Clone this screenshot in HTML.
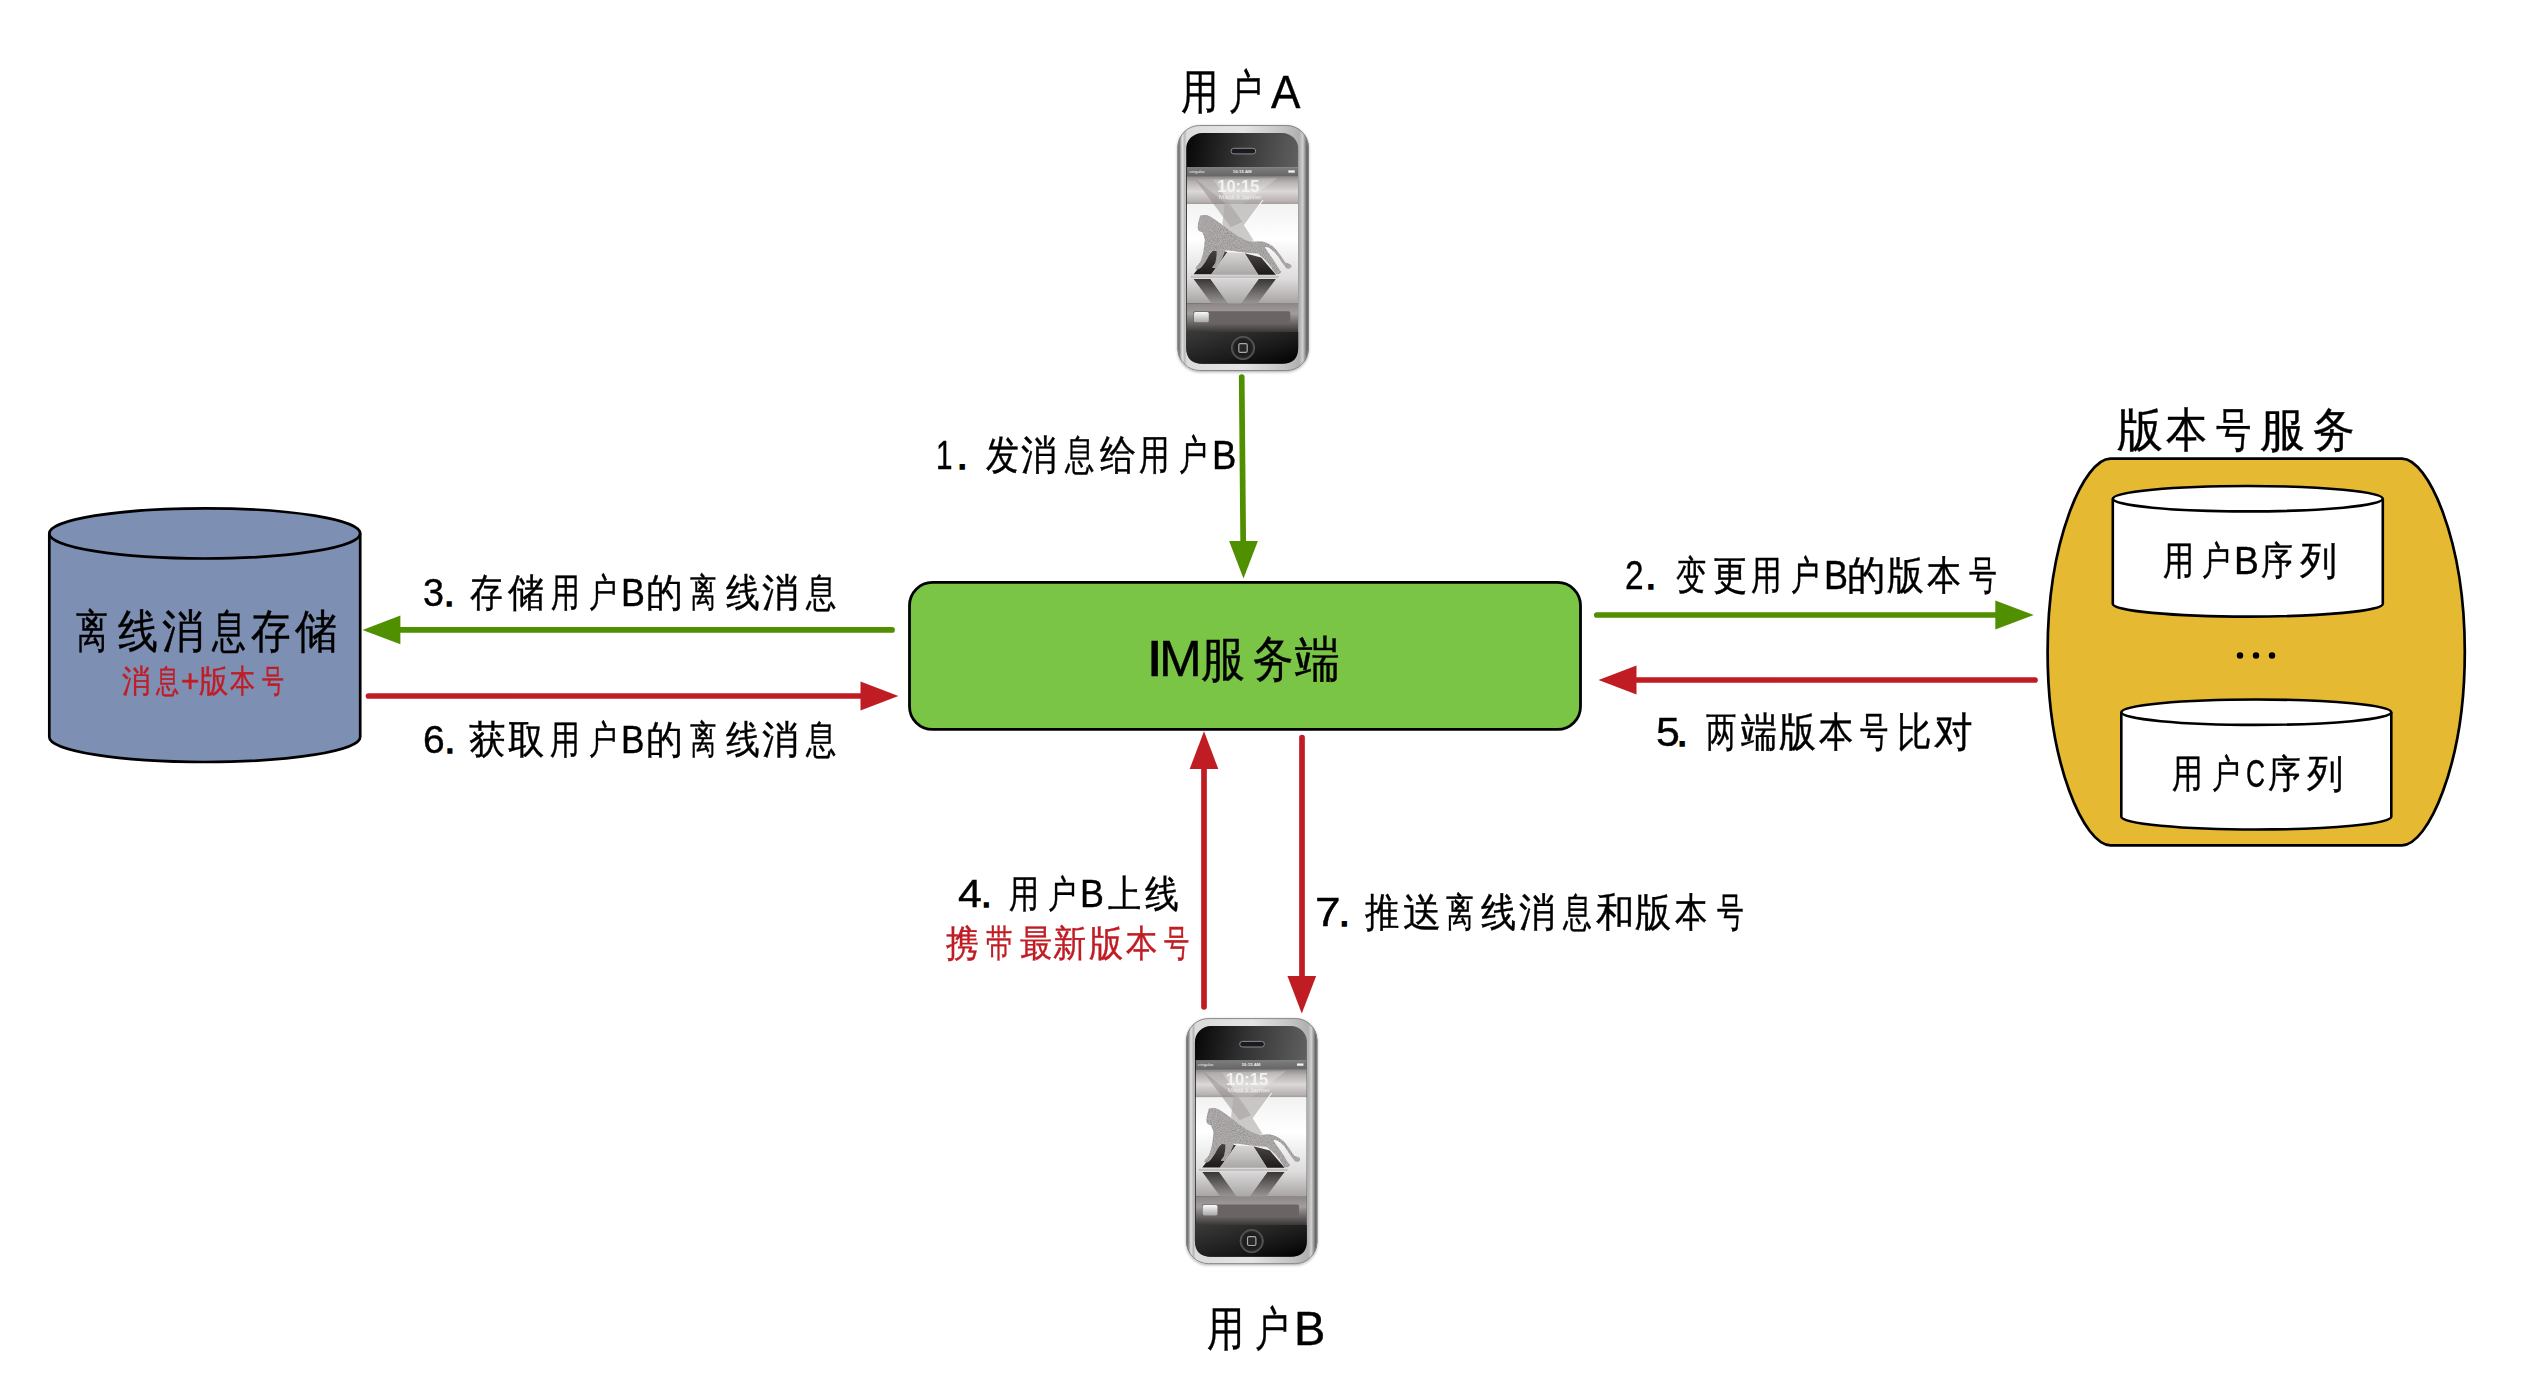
<!DOCTYPE html>
<html><head><meta charset="utf-8">
<style>
html,body{margin:0;padding:0;background:#fff;width:2538px;height:1392px;overflow:hidden;}
#c{position:absolute;left:0;top:0;width:2538px;height:1392px;}
.t{position:absolute;left:0;white-space:nowrap;font-family:"Liberation Sans",sans-serif;color:#000;line-height:1;}
.t span{position:absolute;top:0;transform-origin:0 0;-webkit-text-stroke:0.4px currentColor;}
.t span.d{-webkit-text-stroke:1.4px currentColor;stroke-linejoin:round;}
.r{color:#c01c24;}
</style></head><body>
<svg id="c" width="2538" height="1392" viewBox="0 0 2538 1392">
<defs>
  <linearGradient id="frame" x1="0" y1="0" x2="1" y2="0">
    <stop offset="0" stop-color="#444444"/>
    <stop offset="0.02" stop-color="#9a9a9a"/>
    <stop offset="0.035" stop-color="#e2e2e2"/>
    <stop offset="0.055" stop-color="#b8b8b8"/>
    <stop offset="0.07" stop-color="#dcdcdc"/>
    <stop offset="0.5" stop-color="#e4e4e4"/>
    <stop offset="0.8" stop-color="#c4c4c4"/>
    <stop offset="0.93" stop-color="#b0b0b0"/>
    <stop offset="0.955" stop-color="#d0d0d0"/>
    <stop offset="0.975" stop-color="#8e8e8e"/>
    <stop offset="1" stop-color="#333333"/>
  </linearGradient>
  <linearGradient id="bezel" x1="0" y1="0" x2="1" y2="0.35">
    <stop offset="0" stop-color="#050505"/>
    <stop offset="0.45" stop-color="#353535"/>
    <stop offset="1" stop-color="#666666"/>
  </linearGradient>
  <linearGradient id="bezelb" x1="0" y1="0" x2="1" y2="1">
    <stop offset="0" stop-color="#3a3a3a"/>
    <stop offset="0.6" stop-color="#1a1a1a"/>
    <stop offset="1" stop-color="#000"/>
  </linearGradient>
  <linearGradient id="status" x1="0" y1="0" x2="0" y2="1">
    <stop offset="0" stop-color="#909090"/>
    <stop offset="0.15" stop-color="#7a7a7a"/>
    <stop offset="1" stop-color="#666666"/>
  </linearGradient>
  <linearGradient id="topband" x1="0" y1="0" x2="0" y2="1">
    <stop offset="0" stop-color="#8d8888"/>
    <stop offset="0.2" stop-color="#b5b0b0"/>
    <stop offset="0.55" stop-color="#dcd8d8"/>
    <stop offset="0.9" stop-color="#b9b3b3"/>
    <stop offset="1" stop-color="#a29c9c"/>
  </linearGradient>
  <linearGradient id="mid" x1="0" y1="0" x2="0" y2="1">
    <stop offset="0" stop-color="#f2f2f2"/>
    <stop offset="0.35" stop-color="#ffffff"/>
    <stop offset="0.75" stop-color="#dedcdc"/>
    <stop offset="1" stop-color="#a8a4a4"/>
  </linearGradient>
  <linearGradient id="botband" x1="0" y1="0" x2="0" y2="1">
    <stop offset="0" stop-color="#8d8787"/>
    <stop offset="0.35" stop-color="#a29d9d"/>
    <stop offset="0.7" stop-color="#6a6565"/>
    <stop offset="1" stop-color="#3a3636"/>
  </linearGradient>
  <linearGradient id="facet" x1="0" y1="0" x2="0" y2="1">
    <stop offset="0" stop-color="#3a3636"/>
    <stop offset="1" stop-color="#9a9595"/>
  </linearGradient>
  <linearGradient id="dfacet" x1="0" y1="0" x2="0" y2="1">
    <stop offset="0" stop-color="#4a4444"/>
    <stop offset="1" stop-color="#1e1a1a"/>
  </linearGradient>
  <linearGradient id="lfacet" x1="0" y1="0" x2="0" y2="1">
    <stop offset="0" stop-color="#d8d6d6"/>
    <stop offset="1" stop-color="#a9a6a6"/>
  </linearGradient>
  <linearGradient id="knob" x1="0" y1="0" x2="0" y2="1">
    <stop offset="0" stop-color="#fafafa"/>
    <stop offset="1" stop-color="#a8a8a8"/>
  </linearGradient>
  <radialGradient id="home" cx="0.5" cy="0.5" r="0.5">
    <stop offset="0" stop-color="#111"/>
    <stop offset="0.8" stop-color="#222"/>
    <stop offset="1" stop-color="#666"/>
  </radialGradient>
  <filter id="sh" x="-20%" y="-20%" width="140%" height="140%">
    <feGaussianBlur in="SourceAlpha" stdDeviation="1.6"/>
    <feOffset dx="0" dy="1"/>
    <feComponentTransfer><feFuncA type="linear" slope="0.35"/></feComponentTransfer>
    <feMerge><feMergeNode/><feMergeNode in="SourceGraphic"/></feMerge>
  </filter>
  <filter id="speck" x="0" y="0" width="100%" height="100%">
    <feTurbulence type="fractalNoise" baseFrequency="0.07" numOctaves="2" seed="3" result="n"/>
    <feColorMatrix in="n" type="matrix" values="0 0 0 0 0.3  0 0 0 0 0.29  0 0 0 0 0.29  3 0 0 0 -1.2" result="dots"/>
    <feComposite in="dots" in2="SourceGraphic" operator="in" result="d2"/>
    <feMerge><feMergeNode in="SourceGraphic"/><feMergeNode in="d2"/></feMerge>
  </filter>
  <clipPath id="scr"><rect x="9.2" y="42" width="111.2" height="165"/></clipPath>
  <g id="phone">
    <rect x="0" y="0" width="131" height="246" rx="22" ry="22" fill="url(#frame)" filter="url(#sh)"/>
    <rect x="0.5" y="0.5" width="130" height="245" rx="21.5" ry="21.5" fill="none" stroke="#8a8a8a" stroke-width="1"/>
    <rect x="8.6" y="7.9" width="112" height="230.8" rx="16" ry="16" fill="url(#bezel)"/>
    <g clip-path="url(#scr)">
    <g transform="translate(-7.6,35) scale(0.12931)">
      <rect x="130" y="55" width="860" height="70" fill="url(#status)"/>
      <rect x="130" y="125" width="860" height="215" fill="url(#topband)"/>
      <rect x="130" y="340" width="860" height="770" fill="url(#mid)"/>
      <rect x="130" y="1110" width="860" height="220" fill="url(#botband)"/>
      <polygon points="195,150 335,150 560,480 470,520" fill="#8d8787" opacity="0.5"/>
      <polygon points="200,150 830,140 500,390" fill="#ffffff" opacity="0.22"/>
      
      <rect x="180" y="1170" width="750" height="90" rx="12" fill="#6a6464"/>
      <rect x="185" y="1175" width="115" height="80" rx="12" fill="url(#knob)"/>
      <text x="150" y="103" font-family="Liberation Sans" font-size="34" fill="#f0f0f0">cingular</text>
      <text x="485" y="103" font-family="Liberation Sans" font-size="34" font-weight="bold" fill="#f0f0f0">10:15 AM</text>
      <rect x="915" y="80" width="50" height="18" fill="#f0f0f0"/>
      <text x="365" y="245" font-family="Liberation Sans" font-size="128" font-weight="bold" fill="#f6f6f6" opacity="0.92">10:15</text>
      <text x="380" y="300" font-family="Liberation Sans" font-size="48" fill="#f6f6f6" opacity="0.8">Mardi 9 Janvier</text>
    </g>
    <g transform="translate(7.4,75) scale(0.07184)">
      <polygon points="560,0 1085,0 830,350 965,565 600,600 520,330" fill="#aca7a7" opacity="0.6"/>
      <polyline points="1085,0 830,350 965,565" fill="none" stroke="#ffffff" stroke-width="16" opacity="0.85"/>
      <polygon points="120,1035 365,1035 590,725 400,690 300,800" fill="url(#dfacet)"/>
      <polygon points="830,740 1020,1040 1265,1040 1060,800" fill="url(#dfacet)"/>
      <polygon points="365,1040 590,728 830,740 1020,1040" fill="url(#lfacet)"/>
      <rect x="85" y="1058" width="1215" height="22" fill="#d6d2d2" stroke="#8a8585" stroke-width="4"/>
      <polygon points="120,1100 355,1100 600,1441 370,1441" fill="url(#facet)"/>
      <polygon points="1025,1100 1265,1100 1010,1441 780,1441" fill="url(#facet)"/>
      <polygon points="355,1100 1025,1100 780,1441 600,1441" fill="url(#lfacet)"/>
      <path d="M215,215 C240,205 280,205 310,212 C360,230 420,270 470,310 C510,340 540,365 560,380 C640,440 720,500 830,555 C900,585 980,580 1040,578 C1110,575 1180,610 1250,670 C1310,730 1360,820 1400,875 C1430,880 1470,890 1482,920 C1480,955 1440,965 1410,950 C1380,910 1350,870 1330,840 C1290,770 1240,710 1170,665 C1150,655 1125,650 1110,655 C1150,720 1210,800 1260,880 C1290,930 1320,980 1340,1000 C1320,1035 1280,1040 1255,1020 C1220,960 1170,880 1090,810 C1050,770 1020,745 990,742 C900,745 800,730 700,715 C640,705 590,700 560,700 C540,760 500,850 470,905 C455,930 440,945 420,945 L380,945 C385,925 400,905 420,880 C435,820 445,760 440,715 C420,705 390,705 365,715 C330,780 290,860 250,910 C225,945 200,965 170,965 L145,960 C145,935 180,905 215,860 C250,780 265,680 275,560 C270,500 250,460 235,445 C210,440 190,430 180,410 C175,370 180,320 195,280 C200,250 205,230 215,215 Z" fill="#b0acac" filter="url(#speck)"/>
    </g>
    </g>
    <path d="M8.6,207 L120.6,207 L120.6,222.7 Q120.6,238.7 104.6,238.7 L24.6,238.7 Q8.6,238.7 8.6,222.7 Z" fill="url(#bezelb)"/>
    <rect x="53.4" y="23.3" width="24.7" height="5.6" rx="2.8" fill="#1a1a22" stroke="#8a8a8a" stroke-width="1"/>
    <circle cx="65.4" cy="223" r="11.6" fill="url(#home)" stroke="#555" stroke-width="1"/>
    <rect x="61.2" y="218.6" width="8.4" height="8.8" rx="1.5" fill="#2a2626" stroke="#aaa" stroke-width="1.2"/>
  </g>
</defs>

<!-- offline storage cylinder -->
<path d="M49.3,533.5 A155.45,25.2 0 0 1 360.2,533.5 L360.2,737 A155.45,25 0 0 1 49.3,737 Z" fill="#7e8fb4" stroke="#000" stroke-width="2.7"/>
<path d="M49.3,533.5 A155.45,25 0 0 0 360.2,533.5" fill="none" stroke="#000" stroke-width="2.7"/>

<!-- IM server box -->
<rect x="909.5" y="582.4" width="671" height="147" rx="23" ry="23" fill="#7ac546" stroke="#000" stroke-width="2.8"/>

<!-- version service -->
<path d="M2110.4,458.6 L2402,458.6 C2427.7,458.6 2464.8,538.9 2464.8,652 C2464.8,765.1 2427.7,845.3 2402,845.3 L2110.4,845.3 C2084.7,845.3 2047.6,765.1 2047.6,652 C2047.6,538.9 2084.7,458.6 2110.4,458.6 Z" fill="#e5b932" stroke="#000" stroke-width="2.7"/>
<path d="M2112.8,498.7 A135,12.7 0 0 1 2382.8,498.7 L2382.8,603.9 A135,12.7 0 0 1 2112.8,603.9 Z" fill="#fff" stroke="#000" stroke-width="2.6"/>
<path d="M2112.8,498.7 A135,12.7 0 0 0 2382.8,498.7" fill="none" stroke="#000" stroke-width="2.6"/>
<path d="M2121.3,712.2 A135,12.7 0 0 1 2391.3,712.2 L2391.3,816.8 A135,12.7 0 0 1 2121.3,816.8 Z" fill="#fff" stroke="#000" stroke-width="2.6"/>
<path d="M2121.3,712.2 A135,12.7 0 0 0 2391.3,712.2" fill="none" stroke="#000" stroke-width="2.6"/>
<circle cx="2240" cy="655.5" r="3.2" fill="#000"/>
<circle cx="2256" cy="655.5" r="3.2" fill="#000"/>
<circle cx="2272" cy="655.5" r="3.2" fill="#000"/>

<!-- arrows -->
<g stroke-linecap="round" stroke-width="5.7" fill="none">
  <line x1="892" y1="629.9" x2="398" y2="629.9" stroke="#4f8f00"/>
  <line x1="368.5" y1="696" x2="862" y2="696" stroke="#c01c24"/>
  <line x1="1596.8" y1="615" x2="1997" y2="615" stroke="#4f8f00"/>
  <line x1="2035" y1="680" x2="1634" y2="680" stroke="#c01c24"/>
  <line x1="1241.7" y1="377" x2="1243.2" y2="543" stroke="#4f8f00"/>
  <line x1="1204" y1="1006.8" x2="1204" y2="767" stroke="#c01c24"/>
  <line x1="1302" y1="737.5" x2="1302" y2="978" stroke="#c01c24"/>
</g>
<g stroke="none">
  <polygon points="362.5,629.9 400.4,615.5 400.4,644.3" fill="#4f8f00"/>
  <polygon points="898.4,696 860.5,681.6 860.5,710.4" fill="#c01c24"/>
  <polygon points="2033.7,615 1995.3,600.6 1995.3,629.4" fill="#4f8f00"/>
  <polygon points="1598.5,680 1636.5,665.6 1636.5,694.4" fill="#c01c24"/>
  <polygon points="1243.5,578.6 1229.1,541 1257.9,541" fill="#4f8f00"/>
  <polygon points="1204,731.3 1189.65,769.1 1218.35,769.1" fill="#c01c24"/>
  <polygon points="1301.8,1013.6 1287.45,976 1316.15,976" fill="#c01c24"/>
</g>

<use href="#phone" x="1177.6" y="125"/>
<use href="#phone" x="1186.3" y="1018.1"/>
</svg>

<div class="t" id="t1" style="top:69.4px;font-size:46.64px;"><span style="left:1180.6px;transform:scaleX(0.793)">用</span><span style="left:1228.6px;transform:scaleX(0.705)">户</span><span style="left:1271.3px;transform:scaleX(0.945)">A</span></div>
<div class="t" id="t2" style="top:434.5px;font-size:41.16px;"><span style="left:936.0px;transform:scaleX(0.722)">1</span><span style="left:956.6px;transform:scaleX(1.000)" class="d">.</span><span style="left:986.2px;transform:scaleX(0.803)">发</span><span style="left:1020.5px;transform:scaleX(0.874)">消</span><span style="left:1065.0px;transform:scaleX(0.715)">息</span><span style="left:1099.5px;transform:scaleX(0.882)">给</span><span style="left:1138.9px;transform:scaleX(0.743)">用</span><span style="left:1178.6px;transform:scaleX(0.689)">户</span><span style="left:1211.8px;transform:scaleX(0.886)">B</span></div>
<div class="t" id="t3" style="top:572.6px;font-size:39.24px;"><span style="left:422.8px;transform:scaleX(0.961)">3</span><span style="left:443.8px;transform:scaleX(1.000)" class="d">.</span><span style="left:469.9px;transform:scaleX(0.843)">存</span><span style="left:508.0px;transform:scaleX(0.935)">储</span><span style="left:550.6px;transform:scaleX(0.738)">用</span><span style="left:588.9px;transform:scaleX(0.715)">户</span><span style="left:621.3px;transform:scaleX(0.914)">B</span><span style="left:645.6px;transform:scaleX(0.945)">的</span><span style="left:690.2px;transform:scaleX(0.678)">离</span><span style="left:725.5px;transform:scaleX(0.868)">线</span><span style="left:761.9px;transform:scaleX(0.939)">消</span><span style="left:806.1px;transform:scaleX(0.776)">息</span></div>
<div class="t" id="t4" style="top:721.2px;font-size:38.63px;"><span style="left:422.7px;transform:scaleX(1.011)">6</span><span style="left:444.5px;transform:scaleX(1.000)" class="d">.</span><span style="left:468.9px;transform:scaleX(0.938)">获</span><span style="left:507.9px;transform:scaleX(0.939)">取</span><span style="left:549.6px;transform:scaleX(0.765)">用</span><span style="left:588.9px;transform:scaleX(0.715)">户</span><span style="left:621.4px;transform:scaleX(0.910)">B</span><span style="left:645.6px;transform:scaleX(0.945)">的</span><span style="left:690.2px;transform:scaleX(0.678)">离</span><span style="left:725.5px;transform:scaleX(0.868)">线</span><span style="left:761.9px;transform:scaleX(0.939)">消</span><span style="left:806.1px;transform:scaleX(0.776)">息</span></div>
<div class="t" id="t5" style="top:608.6px;font-size:45.65px;"><span style="left:76.4px;transform:scaleX(0.691)">离</span><span style="left:117.7px;transform:scaleX(0.870)">线</span><span style="left:161.9px;transform:scaleX(0.912)">消</span><span style="left:212.0px;transform:scaleX(0.736)">息</span><span style="left:251.1px;transform:scaleX(0.863)">存</span><span style="left:294.8px;transform:scaleX(0.923)">储</span></div>
<div class="t r" id="t6" style="top:665.7px;font-size:31.95px;"><span style="left:121.9px;transform:scaleX(0.890)">消</span><span style="left:156.0px;transform:scaleX(0.719)">息</span><span style="left:180.9px;transform:scaleX(1.000)">+</span><span style="left:199.1px;transform:scaleX(0.924)">版</span><span style="left:230.0px;transform:scaleX(0.780)">本</span><span style="left:261.5px;transform:scaleX(0.687)">号</span></div>
<div class="t" id="t7" style="top:634.9px;font-size:49.15px;"><span style="left:1145.7px;transform:scaleX(1.280)">I</span><span style="left:1159.3px;transform:scaleX(1.045)">M</span><span style="left:1200.7px;transform:scaleX(0.896)">服</span><span style="left:1253.4px;transform:scaleX(0.824)">务</span><span style="left:1294.9px;transform:scaleX(0.917)">端</span></div>
<div class="t" id="t8" style="top:556.1px;font-size:40.18px;"><span style="left:1625.4px;transform:scaleX(0.832)">2</span><span style="left:1645.3px;transform:scaleX(1.000)" class="d">.</span><span style="left:1675.9px;transform:scaleX(0.758)">变</span><span style="left:1712.9px;transform:scaleX(0.853)">更</span><span style="left:1750.9px;transform:scaleX(0.765)">用</span><span style="left:1790.8px;transform:scaleX(0.709)">户</span><span style="left:1823.5px;transform:scaleX(0.895)">B</span><span style="left:1847.3px;transform:scaleX(0.962)">的</span><span style="left:1887.1px;transform:scaleX(0.924)">版</span><span style="left:1927.3px;transform:scaleX(0.851)">本</span><span style="left:1969.3px;transform:scaleX(0.695)">号</span></div>
<div class="t" id="t9" style="top:712.1px;font-size:40.76px;"><span style="left:1655.8px;transform:scaleX(1.053)">5</span><span style="left:1676.4px;transform:scaleX(1.000)" class="d">.</span><span style="left:1705.5px;transform:scaleX(0.744)">两</span><span style="left:1741.4px;transform:scaleX(0.882)">端</span><span style="left:1779.1px;transform:scaleX(0.903)">版</span><span style="left:1819.2px;transform:scaleX(0.834)">本</span><span style="left:1860.0px;transform:scaleX(0.689)">号</span><span style="left:1896.8px;transform:scaleX(0.842)">比</span><span style="left:1933.5px;transform:scaleX(0.945)">对</span></div>
<div class="t" id="t10" style="top:405.5px;font-size:46.98px;"><span style="left:2116.6px;transform:scaleX(0.977)">版</span><span style="left:2166.1px;transform:scaleX(0.870)">本</span><span style="left:2216.2px;transform:scaleX(0.750)">号</span><span style="left:2259.8px;transform:scaleX(0.953)">服</span><span style="left:2312.6px;transform:scaleX(0.886)">务</span></div>
<div class="t" id="t11" style="top:542.0px;font-size:38.89px;"><span style="left:2163.3px;transform:scaleX(0.797)">用</span><span style="left:2201.9px;transform:scaleX(0.724)">户</span><span style="left:2234.1px;transform:scaleX(0.957)">B</span><span style="left:2261.3px;transform:scaleX(0.816)">序</span><span style="left:2299.9px;transform:scaleX(0.949)">列</span></div>
<div class="t" id="t12" style="top:755.0px;font-size:38.89px;"><span style="left:2172.4px;transform:scaleX(0.788)">用</span><span style="left:2212.0px;transform:scaleX(0.721)">户</span><span style="left:2245.6px;transform:scaleX(0.676)">C</span><span style="left:2267.8px;transform:scaleX(0.841)">序</span><span style="left:2307.1px;transform:scaleX(0.934)">列</span></div>
<div class="t" id="t13" style="top:875.4px;font-size:38.23px;"><span style="left:957.6px;transform:scaleX(1.121)">4</span><span style="left:981.1px;transform:scaleX(1.000)" class="d">.</span><span style="left:1009.0px;transform:scaleX(0.791)">用</span><span style="left:1047.6px;transform:scaleX(0.742)">户</span><span style="left:1080.4px;transform:scaleX(0.938)">B</span><span style="left:1107.8px;transform:scaleX(0.872)">上</span><span style="left:1145.4px;transform:scaleX(0.892)">线</span></div>
<div class="t r" id="t14" style="top:926.4px;font-size:36.63px;"><span style="left:946.1px;transform:scaleX(0.883)">携</span><span style="left:985.7px;transform:scaleX(0.721)">带</span><span style="left:1020.1px;transform:scaleX(0.874)">最</span><span style="left:1053.0px;transform:scaleX(0.897)">新</span><span style="left:1088.7px;transform:scaleX(0.926)">版</span><span style="left:1126.0px;transform:scaleX(0.844)">本</span><span style="left:1163.9px;transform:scaleX(0.683)">号</span></div>
<div class="t" id="t15" style="top:891.8px;font-size:40.08px;"><span style="left:1314.9px;transform:scaleX(1.147)">7</span><span style="left:1338.8px;transform:scaleX(1.000)" class="d">.</span><span style="left:1365.3px;transform:scaleX(0.859)">推</span><span style="left:1403.2px;transform:scaleX(0.958)">送</span><span style="left:1446.1px;transform:scaleX(0.692)">离</span><span style="left:1481.3px;transform:scaleX(0.882)">线</span><span style="left:1519.3px;transform:scaleX(0.908)">消</span><span style="left:1562.8px;transform:scaleX(0.721)">息</span><span style="left:1596.3px;transform:scaleX(0.957)">和</span><span style="left:1635.3px;transform:scaleX(0.908)">版</span><span style="left:1675.3px;transform:scaleX(0.808)">本</span><span style="left:1717.1px;transform:scaleX(0.668)">号</span></div>
<div class="t" id="t16" style="top:1305.0px;font-size:47.26px;"><span style="left:1206.9px;transform:scaleX(0.788)">用</span><span style="left:1255.4px;transform:scaleX(0.717)">户</span><span style="left:1294.2px;transform:scaleX(0.992)">B</span></div>
</body></html>
